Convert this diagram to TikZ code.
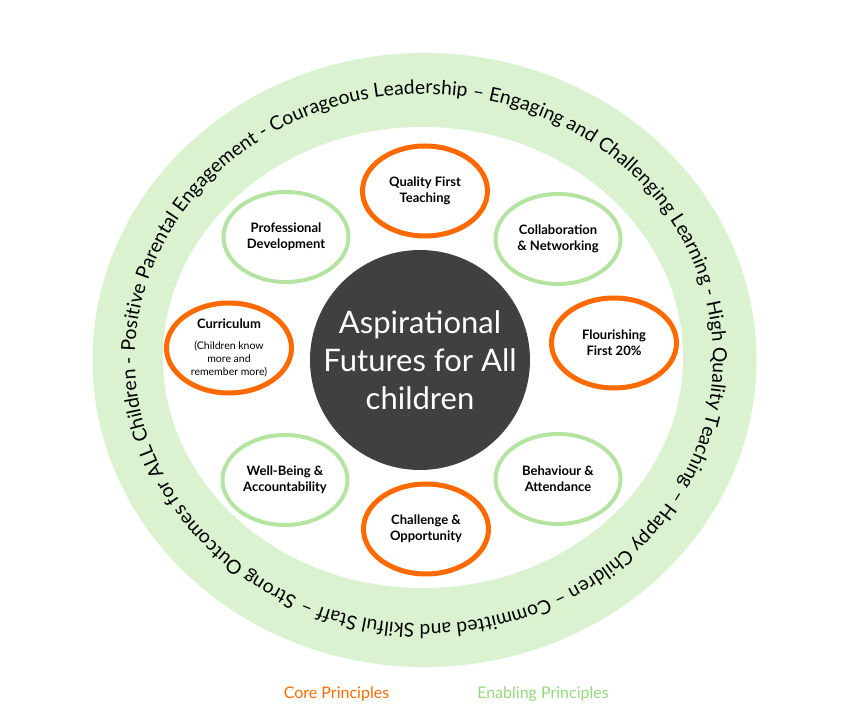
\documentclass[tikz,border=0pt]{standalone}
\usepackage{fontspec}
\setmainfont{Lato}
\setsansfont{Lato}
\usepackage{tikz}
\definecolor{coreorange}{HTML}{FF6A00}
\definecolor{enablegreen}{HTML}{B5E3A1}
\definecolor{bandgreen}{HTML}{DAF2D0}
\definecolor{legendgreen}{HTML}{94D97D}
\definecolor{hubgrey}{HTML}{404040}
\usetikzlibrary{shapes.geometric, positioning, decorations.text}

\begin{document}
\begin{tikzpicture}[
    x=1pt, y=1pt,
    hub/.style={
      circle,
      fill=hubgrey,
      minimum size=220pt,
      inner sep=0pt,
      align=center,
      text=white,
      font=\fontsize{31}{38}\selectfont
    },
    core/.style={
      ellipse,
      draw=coreorange,
      line width=5pt,
      fill=white,
      minimum width=125pt,
      minimum height=90pt,
      inner sep=0pt,
      align=center,
      font=\fontsize{13}{16}\selectfont\bfseries
    },
    enabling/.style={
      ellipse,
      draw=enablegreen,
      line width=4pt,
      fill=white,
      minimum width=125pt,
      minimum height=90pt,
      inner sep=0pt,
      align=center,
      font=\fontsize{13}{16}\selectfont\bfseries
    },
    legend/.style={
      font=\fontsize{16}{19}\selectfont
    }
  ]
    \useasboundingbox (0,0) rectangle (844,720);

    % Outer ring
    \fill[bandgreen] (424.5,360) ellipse [x radius=332, y radius=307];
    \fill[white] (423,362.5) ellipse [x radius=260, y radius=230.5];
    \path[decorate, decoration={text along path, text align={fit to path},
      text={|\fontsize{19.3}{23}\selectfont|Strong Outcomes for ALL Children - Positive Parental Engagement - Courageous Leadership – Engaging and Challenging Learning - High Quality Teaching – Happy Children – Committed and Skilful Staff –}}]
      (424,361) ++(244:289 and 265) arc [start angle=244, end angle=-114.5, x radius=289, y radius=265];

    % Centre
    \node (hub) [hub] at (420,360) {Aspirational\\Futures for All\\children};

    % Principles (clockwise from top)
    \node (quality) [core] at (425,529) {Quality First\\Teaching};
    \node (collab) [enabling] at (558,481) {Collaboration\\\& Networking};
    \node (flourish) [core] at (614,377) {Flourishing\\First 20\%};
    \node (behaviour) [enabling] at (558,241) {Behaviour \&\\Attendance};
    \node (challenge) [core] at (426,191) {Challenge \&\\Opportunity};
    \node (wellbeing) [enabling] at (285,240) {Well-Being \&\\Accountability};
    \node (curriculum) [core, font=\fontsize{10.5}{13}\selectfont] at (229,372)
      {{\fontsize{13}{16}\selectfont\bfseries Curriculum}\\[8pt](Children know\\more and\\remember more)};
    \node (profdev) [enabling] at (286,483) {Professional\\Development};

    % Legend
    \node (corelabel) [legend, text=coreorange] at (336.5,26) {Core Principles};
    \node (enablelabel) [legend, text=legendgreen] at (543,26) {Enabling Principles};

  \end{tikzpicture}
\end{document}
